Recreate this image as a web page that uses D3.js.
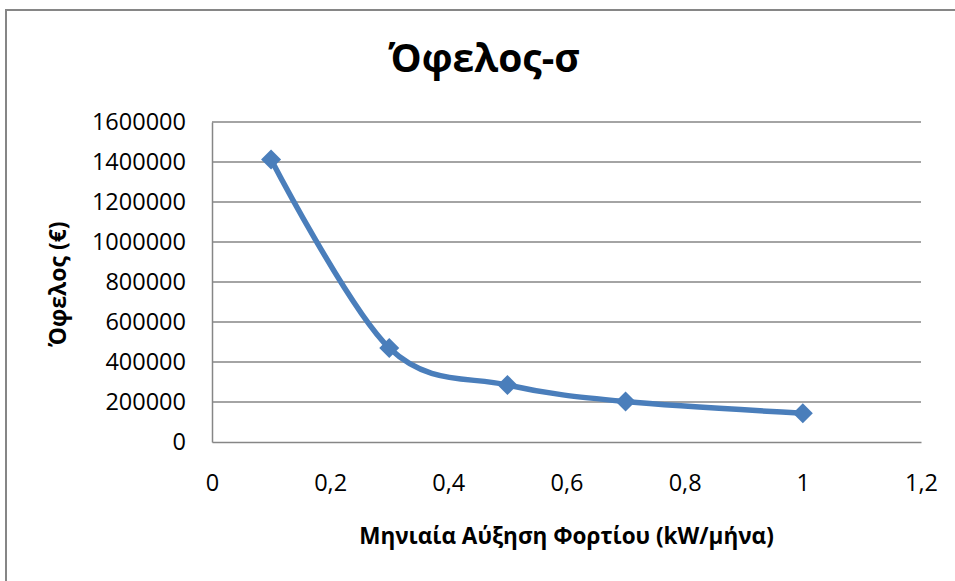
<!DOCTYPE html>
<html>
<head>
<meta charset="utf-8">
<script src="https://cdn.jsdelivr.net/npm/d3@7"></script>
<style>
  html, body { margin: 0; padding: 0; background: #fff; }
  svg { display: block; }
  text { font-family: "Open Sans", "Noto Sans", sans-serif; fill: #000; }
</style>
</head>
<body>
<svg id="chart" width="955" height="581"></svg>
<script>
// Monthly load growth (kW/month) and resulting benefit (€)
const growth = [0.1, 0.3, 0.5, 0.7, 1.0];
const benefit = [1413000, 470000, 285000, 202000, 144000];
const xTicks = [0, 0.2, 0.4, 0.6, 0.8, 1.0, 1.2];
const yTicks = [0, 200000, 400000, 600000, 800000, 1000000, 1200000, 1400000, 1600000];

const chartTitle = "Όφελος-σ";
const xTitle = "Μηνιαία Αύξηση Φορτίου (kW/μήνα)";
const yTitle = "Όφελος (€)";

const W = 955, H = 581;
const plot = { left: 212, right: 921, top: 122, bottom: 442 };
const gridColor = "#868686";
const seriesColor = "#4A7EBB";

const svg = d3.select("#chart");

// frame of the chart area
svg.append("path")
  .attr("d", `M6,${H} L6,10 L${W},10`)
  .attr("fill", "none")
  .attr("stroke", gridColor)
  .attr("stroke-width", 2);

const x = d3.scaleLinear().domain([0, 1.2]).range([plot.left, plot.right]);
const y = d3.scaleLinear().domain([0, 1600000]).range([plot.bottom, plot.top]);

const fmtX = v => String(+v.toFixed(1)).replace(".", ",");

// horizontal gridlines
svg.append("g")
  .selectAll("line")
  .data(yTicks.filter(v => v > 0))
  .join("line")
  .attr("x1", plot.left).attr("x2", plot.right)
  .attr("y1", d => y(d)).attr("y2", d => y(d))
  .attr("stroke", gridColor).attr("stroke-width", 1.5);

// y axis
const yAxis = svg.append("g")
  .attr("transform", `translate(${plot.left},0)`)
  .call(d3.axisLeft(y).tickValues(yTicks).tickSize(0).tickPadding(26).tickFormat(d => String(d)));
yAxis.select(".domain").attr("stroke", gridColor).attr("stroke-width", 1.5);
yAxis.selectAll("text")
  .attr("font-size", 23.5)
  .attr("font-family", "'Open Sans', sans-serif")
  .attr("fill", "#000");

// x axis
const xAxis = svg.append("g")
  .attr("transform", `translate(0,${plot.bottom})`)
  .call(d3.axisBottom(x).tickValues(xTicks).tickSize(0).tickPadding(32).tickFormat(fmtX));
xAxis.select(".domain").attr("stroke", gridColor).attr("stroke-width", 1.5);
xAxis.selectAll("text")
  .attr("font-size", 23.5)
  .attr("font-family", "'Open Sans', sans-serif")
  .attr("fill", "#000");

// smoothed series line
const pts = growth.map((g, i) => [g, benefit[i]]);
const line = d3.line()
  .x(d => x(d[0]))
  .y(d => y(d[1]))
  .curve(d3.curveCatmullRom.alpha(0));

svg.append("path")
  .datum(pts)
  .attr("d", line)
  .attr("fill", "none")
  .attr("stroke", seriesColor)
  .attr("stroke-width", 5.5)
  .attr("stroke-linejoin", "round");

// diamond markers
const diamond = d3.symbol().type(d3.symbolSquare).size(200);
svg.append("g")
  .selectAll("path")
  .data(pts)
  .join("path")
  .attr("d", diamond)
  .attr("transform", d => `translate(${x(d[0])},${y(d[1])}) rotate(45)`)
  .attr("fill", seriesColor);

// titles
svg.append("text")
  .attr("x", 484).attr("y", 72)
  .attr("text-anchor", "middle")
  .attr("font-size", 39)
  .attr("font-weight", "bold")
  .text(chartTitle);

svg.append("text")
  .attr("x", (plot.left + plot.right) / 2).attr("y", 544)
  .attr("text-anchor", "middle")
  .attr("font-size", 22.5)
  .attr("font-weight", "bold")
  .text(xTitle);

svg.append("text")
  .attr("transform", `translate(66,${(plot.top + plot.bottom) / 2 + 2}) rotate(-90)`)
  .attr("text-anchor", "middle")
  .attr("font-size", 23)
  .attr("font-weight", "bold")
  .text(yTitle);
</script>
</body>
</html>
